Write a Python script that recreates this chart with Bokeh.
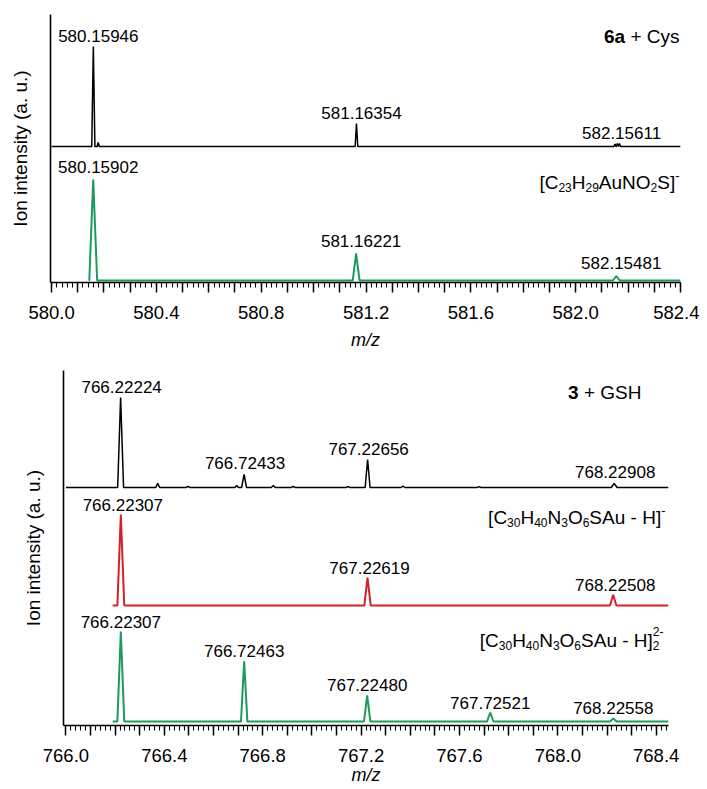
import numpy as np
from bokeh.plotting import figure
from bokeh.models import (Range1d, FixedTicker, ColumnDataSource, Label, PrintfTickFormatter)
from bokeh.core.properties import value
from bokeh.embed import file_html
from bokeh.resources import INLINE

FONT = "Liberation Sans"

# ---------------- data: top panel (6a + Cys) ----------------
top_exp_mz = [580.15946, 580.178, 581.16354, 582.150, 582.159, 582.167]
top_exp_int = [100, 4, 23, 2.5, 3, 3]
top_exp_w = [0.006, 0.004, 0.005, 0.004, 0.004, 0.004]
top_exp_span = [580.0, 582.4]
top_exp_labels = ["580.15946", "581.16354", "582.15611"]
top_exp_label_int = [100, 23, 3]

top_sim_mz = [580.15902, 581.16221, 582.15481]
top_sim_int = [101, 27, 4.5]
top_sim_w = [0.015, 0.013, 0.013]
top_sim_span = [580.143, 582.4]
top_sim_labels = ["580.15902", "581.16221", "582.15481"]
top_sim_label_int = [101, 27, 4.5]

# ---------------- data: bottom panel (3 + GSH) ----------------
bot_exp_mz = [766.22224, 766.373, 766.496, 766.694, 766.72433, 766.843, 766.924,
              767.147, 767.22656, 767.37, 767.68, 768.22908]
bot_exp_int = [100, 4.5, 1.2, 2.2, 14.5, 2.2, 1.2, 1.0, 31, 1.5, 1.0, 4.5]
bot_exp_w = [0.012, 0.008, 0.008, 0.007, 0.010, 0.008, 0.008, 0.008, 0.010, 0.008, 0.008, 0.012]
bot_exp_span = [766.0, 768.45]
bot_exp_labels = ["766.22224", "766.72433", "767.22656", "768.22908"]
bot_exp_label_int = [100, 14.5, 31, 4.5]

bot_red_mz = [766.22307, 767.22619, 768.22508]
bot_red_int = [101, 31, 12]
bot_red_w = [0.014, 0.013, 0.013]
bot_red_span = [766.19, 768.45]
bot_red_labels = ["766.22307", "767.22619", "768.22508"]
bot_red_label_int = [101, 31, 12]

bot_grn_mz = [766.22307, 766.72463, 767.22480, 767.72521, 768.22558]
bot_grn_int = [100, 67, 29, 10, 3.5]
bot_grn_w = [0.014, 0.013, 0.013, 0.013, 0.013]
bot_grn_span = [766.19, 768.45]
bot_grn_labels = ["766.22307", "766.72463", "767.22480", "767.72521", "768.22558"]
bot_grn_label_int = [100, 67, 29, 10, 3.5]

GREEN = "#1e9a5a"
RED = "#d62027"

# Arial / Liberation Sans advance widths (per 1000 em)
AW = {" ": 278, "+": 584, "-": 333, "[": 278, "]": 278, ".": 278,
      "A": 667, "C": 722, "G": 778, "H": 722, "N": 722, "O": 778, "S": 667,
      "a": 556, "s": 500, "u": 556, "y": 500}


def text_w(t, fs):
    return sum(AW.get(c, 556) for c in t) / 1000.0 * fs


def trace(mz, inten, width, span, scale, offset):
    xs = [span[0]]
    ys = [offset]
    for m, h, w in sorted(zip(mz, inten, width)):
        xs += [m - w, m, m + w]
        ys += [offset, offset + h * scale, offset]
    xs.append(span[1])
    ys.append(offset)
    return xs, ys


def make_fig(fw, fh, xr, yr, tick_lo, tick_hi, mbl, mbr, mbt, mbb,
             label_standoff, axlabel_standoff, ylab_standoff):
    p = figure(frame_width=fw, frame_height=fh, x_range=Range1d(*xr), y_range=Range1d(*yr),
               output_backend="svg", toolbar_location=None,
               min_border_left=mbl, min_border_right=mbr, min_border_top=mbt, min_border_bottom=mbb)
    p.xgrid.visible = False
    p.ygrid.visible = False
    p.outline_line_color = None
    xa = p.xaxis[0]
    n_major = int(round((tick_hi - tick_lo) / 0.1))
    majors = [round(tick_lo + 0.1 * i, 1) for i in range(n_major + 1)]
    n_minor = int(round((xr[1] - tick_lo) / 0.02))
    minors = [round(tick_lo + 0.02 * i, 2) for i in range(n_minor + 1)]
    xa.ticker = FixedTicker(ticks=majors, minor_ticks=minors)
    xa.formatter = PrintfTickFormatter(format="%.1f")
    xa.major_label_overrides = {m: "" for m in majors
                                if abs(m / 0.4 - round(m / 0.4)) > 1e-6}
    xa.major_tick_out = 10
    xa.major_tick_in = 0
    xa.minor_tick_out = 5
    xa.minor_tick_in = 0
    xa.axis_line_width = 1.6
    xa.major_tick_line_width = 1.5
    xa.minor_tick_line_width = 1.1
    xa.axis_line_color = "black"
    xa.major_tick_line_color = "black"
    xa.minor_tick_line_color = "black"
    xa.major_label_text_font = FONT
    xa.major_label_text_font_size = "18.5px"
    xa.major_label_text_color = "black"
    xa.major_label_standoff = label_standoff
    xa.axis_label = "m/z"
    xa.axis_label_text_font = FONT
    xa.axis_label_text_font_size = "18px"
    xa.axis_label_text_font_style = "italic"
    xa.axis_label_text_color = "black"
    xa.axis_label_standoff = axlabel_standoff
    ya = p.yaxis[0]
    ya.ticker = FixedTicker(ticks=[])
    ya.major_tick_out = 0
    ya.major_tick_in = 0
    ya.minor_tick_out = 0
    ya.minor_tick_in = 0
    ya.major_label_standoff = 0
    ya.axis_line_width = 1.6
    ya.axis_line_color = "black"
    ya.axis_label = "Ion intensity (a. u.)"
    ya.axis_label_text_font = FONT
    ya.axis_label_text_font_size = "19px"
    ya.axis_label_text_font_style = "normal"
    ya.axis_label_text_color = "black"
    ya.axis_label_standoff = ylab_standoff
    return p


def peak_labels(p, labels, ints, scale, offset, gap, dx, color="black"):
    src = ColumnDataSource(dict(x=[float(t) for t in labels],
                                y=[offset + h * scale + gap for h in ints],
                                t=labels))
    p.text(x="x", y="y", text="t", source=src, text_font=value(FONT), text_font_size="17px",
           text_align="center", text_baseline="middle", x_offset=dx, text_color=color)


def rich(p, segs, x_anchor, right_px, yc, size=19, small=12):
    pos = []
    cur = 0.0
    prev_start = 0.0
    for t, k in segs:
        fs = size if k in ("n", "B") else small
        if k == "p":
            fs = 13
        w = text_w(t, fs)
        if k == "q":
            start = prev_start
            cur = max(cur, start + w)
        else:
            start = cur
            cur = start + w
        prev_start = start
        pos.append((t.strip(), k, start + (text_w(" ", fs) if t.startswith(" ") else 0), fs))
    total = cur
    for t, k, start, fs in pos:
        dy = {"n": 0, "B": 0, "b": -5, "p": 7, "q": 9}[k]
        p.add_layout(Label(x=x_anchor, y=yc + dy, x_offset=right_px - total + start, text=t,
                           text_font=FONT, text_font_size=f"{fs}px",
                           text_font_style="bold" if k == "B" else "normal",
                           text_align="left", text_baseline="middle", text_color="black"))


# ---------------- top figure ----------------
TOP_XR = (579.996, 582.4)
TOP_YR = (-2, 266)
p1 = make_fig(630, 268, TOP_XR, TOP_YR, 580.0, 582.4, 50, 19, 14, 74, 13, 8, 20)
OFF_EXP_TOP = 134
xs, ys = trace(top_exp_mz, top_exp_int, top_exp_w, top_exp_span, 1.0, OFF_EXP_TOP)
p1.line(xs, ys, line_color="black", line_width=1.5)
xs, ys = trace(top_sim_mz, top_sim_int, top_sim_w, top_sim_span, 1.0, 0)
p1.line(xs, ys, line_color=GREEN, line_width=2)
peak_labels(p1, top_exp_labels, top_exp_label_int, 1.0, OFF_EXP_TOP, 11, 5)
peak_labels(p1, top_sim_labels, top_sim_label_int, 1.0, 0, 13, 5)
rich(p1, [("6a", "B"), (" + Cys", "n")], TOP_XR[1], -1, 244)
rich(p1, [("[C", "n"), ("23", "b"), ("H", "n"), ("29", "b"), ("AuNO", "n"), ("2", "b"),
          ("S]", "n"), ("-", "p")], TOP_XR[1], -1, 98)

# ---------------- bottom figure ----------------
BOT_XR = (765.99, 768.45)
BOT_YR = (-4, 351)
p2 = make_fig(605, 355, BOT_XR, BOT_YR, 766.0, 768.4, 63, 31, 14, 64, 13, 0, 20)
S2 = 0.9
OFF_EXP_BOT = 234
OFF_RED_BOT = 116
xs, ys = trace(bot_exp_mz, bot_exp_int, bot_exp_w, bot_exp_span, S2, OFF_EXP_BOT)
p2.line(xs, ys, line_color="black", line_width=1.5)
xs, ys = trace(bot_red_mz, bot_red_int, bot_red_w, bot_red_span, S2, OFF_RED_BOT)
p2.line(xs, ys, line_color=RED, line_width=2)
xs, ys = trace(bot_grn_mz, bot_grn_int, bot_grn_w, bot_grn_span, S2, 0)
p2.line(xs, ys, line_color=GREEN, line_width=2)
peak_labels(p2, bot_exp_labels, bot_exp_label_int, S2, OFF_EXP_BOT, 11, 1)
peak_labels(p2, bot_red_labels, bot_red_label_int, S2, OFF_RED_BOT, 10, 2)
peak_labels(p2, bot_grn_labels, bot_grn_label_int, S2, 0, 10, 0)
rich(p2, [("3", "B"), (" + GSH", "n")], BOT_XR[1], -27, 329)
rich(p2, [("[C", "n"), ("30", "b"), ("H", "n"), ("40", "b"), ("N", "n"), ("3", "b"), ("O", "n"),
          ("6", "b"), ("SAu - H]", "n"), ("-", "p")], BOT_XR[1], -3, 204)
rich(p2, [("[C", "n"), ("30", "b"), ("H", "n"), ("40", "b"), ("N", "n"), ("3", "b"), ("O", "n"),
          ("6", "b"), ("SAu - H]", "n"), ("2", "b"), ("2-", "q")], BOT_XR[1], -5, 81)

open("out.html", "w").write(file_html([p1, p2], INLINE))
